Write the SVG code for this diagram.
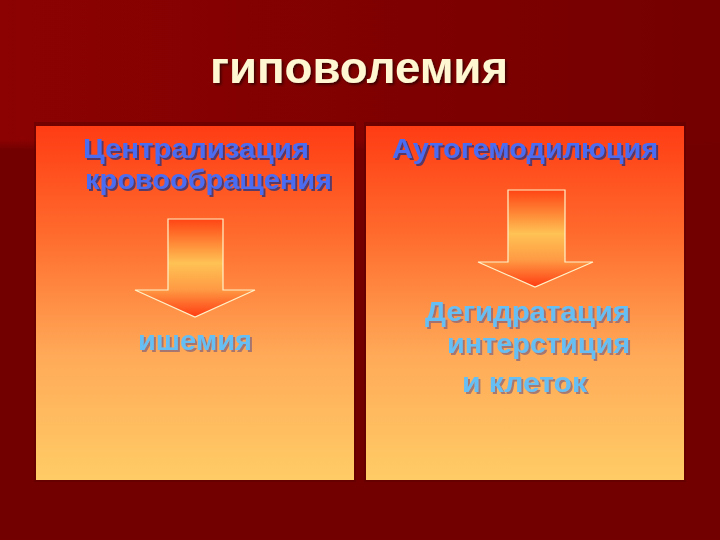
<svg xmlns="http://www.w3.org/2000/svg" width="720" height="540" viewBox="0 0 720 540">
<defs>
<linearGradient id="bgTop" x1="0" y1="0" x2="1" y2="0">
<stop offset="0" stop-color="#8c0202"/>
<stop offset="0.6" stop-color="#7e0000"/>
<stop offset="1" stop-color="#740000"/>
</linearGradient>
<linearGradient id="bgFade" x1="0" y1="0" x2="0" y2="1">
<stop offset="0" stop-color="#720000" stop-opacity="0"/>
<stop offset="1" stop-color="#720000" stop-opacity="1"/>
</linearGradient>
<linearGradient id="panel" x1="0" y1="0" x2="0" y2="1">
<stop offset="0" stop-color="#ff3c14"/>
<stop offset="0.3" stop-color="#ff6a2c"/>
<stop offset="0.65" stop-color="#ffaa58"/>
<stop offset="1" stop-color="#ffcc66"/>
</linearGradient>
<linearGradient id="arrowFill" x1="0" y1="0" x2="0" y2="1">
<stop offset="0" stop-color="#ff4414"/>
<stop offset="0.45" stop-color="#ffc254"/>
<stop offset="0.72" stop-color="#ff9a44"/>
<stop offset="1" stop-color="#ff3c12"/>
</linearGradient>
<filter id="shTitle" x="-10%" y="-20%" width="120%" height="150%">
<feDropShadow dx="2" dy="2" stdDeviation="0.8" flood-color="#300000" flood-opacity="0.75"/>
</filter>
<filter id="shHead" x="-10%" y="-20%" width="120%" height="150%">
<feDropShadow dx="2" dy="2" stdDeviation="0.6" flood-color="#23317e" flood-opacity="0.75"/>
</filter>
<filter id="shSub" x="-10%" y="-20%" width="120%" height="150%">
<feDropShadow dx="2" dy="2" stdDeviation="0.6" flood-color="#80607a" flood-opacity="0.7"/>
</filter>
</defs>
<style>
.title{font-family:"Liberation Sans",Arial,sans-serif;font-weight:bold;font-size:45px;fill:#fff6d2;filter:url(#shTitle)}
.head{font-family:"Liberation Sans",Arial,sans-serif;font-weight:bold;font-size:28px;fill:#4a6cf2;filter:url(#shHead)}
.sub{font-family:"Liberation Sans",Arial,sans-serif;font-weight:bold;font-size:28px;fill:#66bff4;filter:url(#shSub)}
.panel{fill:url(#panel)}
.arrow{fill:url(#arrowFill);stroke:#fff2c8;stroke-width:1.2;stroke-linejoin:miter}
</style>
<rect x="0" y="0" width="720" height="540" fill="#720000"/>
<rect x="0" y="0" width="720" height="150" fill="url(#bgTop)"/>
<rect x="0" y="140" width="720" height="10" fill="url(#bgFade)"/>

<g id="title">
<text class="title" x="210" y="83" textLength="298" lengthAdjust="spacingAndGlyphs">гиповолемия</text>
</g>

<g id="panel-left">
<rect x="34" y="122" width="322" height="360" fill="#5a0000" opacity="0.5"/>
<rect class="panel" x="36" y="126" width="318" height="354"/>
</g>
<g id="panel-right">
<rect x="364" y="122" width="322" height="360" fill="#5a0000" opacity="0.5"/>
<rect class="panel" x="366" y="126" width="318" height="354"/>
</g>

<g id="node-centralization">
<text class="head" x="83" y="158" textLength="226" lengthAdjust="spacingAndGlyphs">Централизация</text>
<text class="head" x="85" y="189" textLength="247" lengthAdjust="spacingAndGlyphs">кровообращения</text>
</g>

<g id="node-autohemodilution">
<text class="head" x="392" y="158" textLength="266" lengthAdjust="spacingAndGlyphs">Аутогемодилюция</text>
</g>

<g id="node-ischemia">
<text class="sub" x="138" y="350" textLength="114" lengthAdjust="spacingAndGlyphs">ишемия</text>
</g>

<g id="node-dehydration">
<text class="sub" x="425" y="321" textLength="205" lengthAdjust="spacingAndGlyphs">Дегидратация</text>
<text class="sub" x="447" y="353" textLength="183" lengthAdjust="spacingAndGlyphs">интерстиция</text>
<text class="sub" x="462" y="392" textLength="125" lengthAdjust="spacingAndGlyphs">и клеток</text>
</g>

<g id="connectors">
<path class="arrow" d="M168,219 H223 V290 H255 L195,317 L135,290 H168 Z"/>
<path class="arrow" d="M508,190 H565 V262 H593 L535,287 L478,262 H508 Z"/>
</g>
</svg>
